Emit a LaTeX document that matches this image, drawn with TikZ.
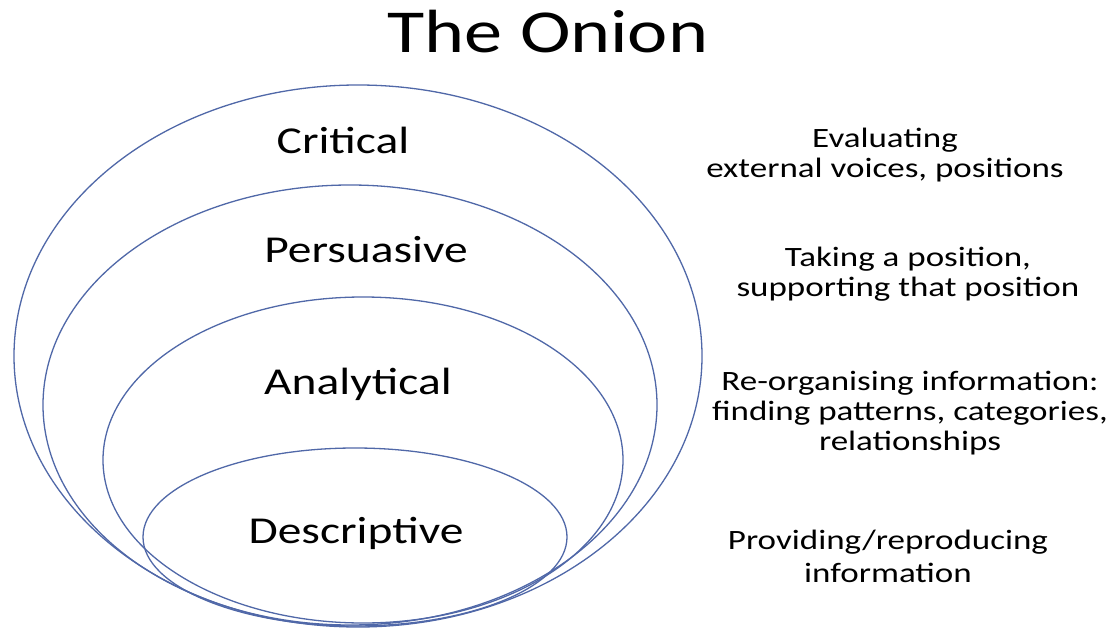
\documentclass[tikz,border=0pt]{standalone}
\usepackage{fontspec}
\setmainfont{Carlito}[FakeStretch=1.25]
\definecolor{ringblue}{HTML}{5068A8}
\begin{document}
\begin{tikzpicture}[x=1pt,y=-1pt,
  ring/.style={draw=ringblue,line width=1.3pt},
  layer/.style={font=\fontsize{38}{40}\selectfont,anchor=base,inner sep=0pt},
  note/.style={font=\fontsize{28}{30}\selectfont,align=center,inner sep=0pt}]
\useasboundingbox[fill=white] (0,0) rectangle (1114,629);
\node[font=\fontsize{61}{64}\selectfont,anchor=base,inner sep=0pt] (title) at (548,52) {The Onion};
% rings
\draw[ring] (358,356) ellipse [x radius=344pt, y radius=271pt];
\draw[ring] (350,405) ellipse [x radius=307pt, y radius=220pt];
\draw[ring] (363,460) ellipse [x radius=260pt, y radius=163pt];
\draw[ring] (355,537) ellipse [x radius=212pt, y radius=89pt];
% layer names
\node[layer] (critical) at (343,153) {Critical};
\node[layer] (persuasive) at (366,262) {Persuasive};
\node[layer] (analytical) at (358,394) {Analytical};
\node[layer] (descriptive) at (356,543) {Descriptive};
% descriptions
\node[note] (eval) at (885,155) {Evaluating\\external voices, positions};
\node[note] (take) at (908,274) {Taking a position,\\supporting that position};
\node[note] (reorg) at (910,413) {Re-organising information:\\finding patterns, categories,\\relationships};
\node[note,font=\fontsize{28}{33}\selectfont] (prov) at (888,556) {Providing/reproducing\\information};
\end{tikzpicture}
\end{document}
